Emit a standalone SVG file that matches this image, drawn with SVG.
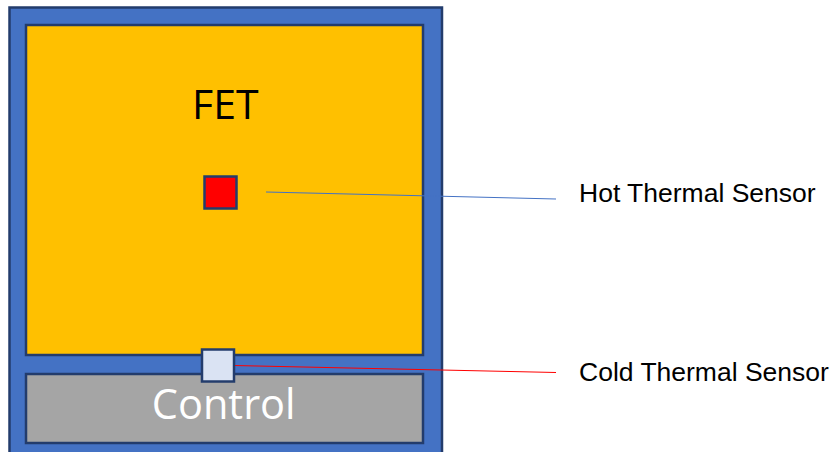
<svg xmlns="http://www.w3.org/2000/svg" width="834" height="452" viewBox="0 0 834 452">
<style>
.box{stroke:#233C6C;stroke-width:2.5}
.lbl{font-family:"Liberation Sans",Arial,sans-serif;font-size:26.5px;fill:#000}
.big{font-family:"Open Sans","Liberation Sans",sans-serif;text-anchor:middle}
</style>
<rect width="834" height="452" fill="#fff"/>
<g id="package"><rect class="box" x="9.5" y="7.5" width="432.5" height="460" fill="#4472C4"/></g>
<g id="fet"><rect class="box" x="26" y="25" width="397" height="330" fill="#FFC000"/>
<text class="big" x="225.3" y="118.5" font-size="41" fill="#000">FET</text></g>
<g id="control"><rect class="box" x="26" y="374" width="397" height="69" fill="#A5A5A5"/>
<text class="big" x="223.7" y="419" font-size="41.5" fill="#fff">Control</text></g>
<g id="connectors">
<line x1="266" y1="192" x2="556" y2="199" stroke="#4472C4" stroke-width="1"/>
<line x1="234" y1="365.5" x2="556" y2="372.5" stroke="#FF0000" stroke-width="1"/>
</g>
<g id="hot-sensor"><rect class="box" x="204.5" y="176.5" width="32" height="32" fill="#FF0000"/></g>
<g id="cold-sensor"><rect class="box" x="202" y="349.5" width="32" height="32" fill="#DAE3F3"/></g>
<g id="hot-label"><text class="lbl" x="579" y="201.5">Hot Thermal Sensor</text></g>
<g id="cold-label"><text class="lbl" x="579" y="381">Cold Thermal Sensor</text></g>
</svg>
